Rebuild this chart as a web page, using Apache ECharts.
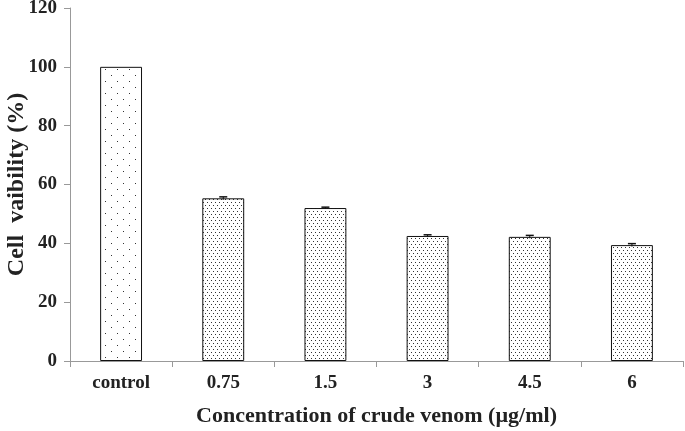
<!DOCTYPE html>
<html><head><meta charset="utf-8">
<script src="https://cdn.jsdelivr.net/npm/echarts@6/dist/echarts.min.js"></script>
<style>html,body{margin:0;padding:0;background:#fff}#c{width:685px;height:431px}</style>
</head><body><div id="c"></div>
<script>
const categories = ['control', '0.75', '1.5', '3', '4.5', '6'];
const viability = [100, 55.3, 52.0, 42.5, 42.2, 39.4];
const errors = [0, 0.5, 0.3, 0.4, 0.5, 0.5];
const yTicks = [0, 20, 40, 60, 80, 100, 120];

function makePattern(w, h, dots) {
  const cv = document.createElement('canvas');
  cv.width = w; cv.height = h;
  const ctx = cv.getContext('2d');
  ctx.fillStyle = '#fff'; ctx.fillRect(0, 0, w, h);
  ctx.fillStyle = '#333';
  dots.forEach(d => ctx.fillRect(d[0], d[1], 1, 1));
  return { image: cv, repeat: 'repeat' };
}
const sparse = makePattern(12, 12, [[3, 3], [9, 9]]);
const dense = makePattern(4, 6, [[1, 1], [3, 4]]);

const font = '"Liberation Serif", "Times New Roman", serif';
const chart = echarts.init(document.getElementById('c'));
chart.setOption({
  animation: false,
  grid: { left: 70, top: 8, right: 2, bottom: 70, outerBoundsMode: 'none', containLabel: false },
  xAxis: {
    type: 'category', data: categories,
    axisLine: { lineStyle: { color: '#999', width: 1 } },
    axisTick: { show: true, length: 6, lineStyle: { color: '#999' } },
    axisLabel: { color: '#222', fontFamily: font, fontWeight: 'bold', fontSize: 19, margin: 13 },
    name: 'Concentration of crude venom (\u00b5g/ml)', nameLocation: 'middle', nameGap: 44,
    nameMoveOverlap: false,
    nameTextStyle: { color: '#222', fontFamily: font, fontWeight: 'bold', fontSize: 22 }
  },
  yAxis: {
    type: 'value', min: 0, max: 120, interval: 20,
    axisLine: { show: true, lineStyle: { color: '#999', width: 1 } },
    axisTick: { show: true, length: 6, lineStyle: { color: '#999' } },
    splitLine: { show: false },
    axisLabel: { color: '#222', fontFamily: font, fontWeight: 'bold', fontSize: 19, margin: 13,
      formatter: v => yTicks.includes(v) ? String(v) : '' },
    name: 'Cell  vaibility (%)', nameLocation: 'middle', nameGap: 41,
    nameMoveOverlap: false,
    nameTextStyle: { color: '#222', fontFamily: font, fontWeight: 'bold', fontSize: 24 }
  },
  series: [{
    type: 'bar', data: viability.map((v, i) => ({
      value: v, itemStyle: { color: i === 0 ? sparse : dense }
    })),
    barWidth: '41%',
    itemStyle: { borderColor: '#111', borderWidth: 1 }
  }, {
    type: 'custom',
    data: viability.map((v, i) => [i, v, errors[i]]),
    renderItem: function (params, api) {
      const i = api.value(0), v = api.value(1), e = api.value(2);
      if (!e) return null;
      const hi = api.coord([i, v + e]);
      const lo = api.coord([i, v - e]);
      const hw = 4;
      return { type: 'group', children: [
        { type: 'line', shape: { x1: hi[0], y1: hi[1], x2: lo[0], y2: lo[1] }, style: { stroke: '#111', lineWidth: 1 } },
        { type: 'line', shape: { x1: hi[0] - hw, y1: hi[1], x2: hi[0] + hw, y2: hi[1] }, style: { stroke: '#111', lineWidth: 1.5 } }
      ] };
    },
    z: 5
  }]
});
</script></body></html>
